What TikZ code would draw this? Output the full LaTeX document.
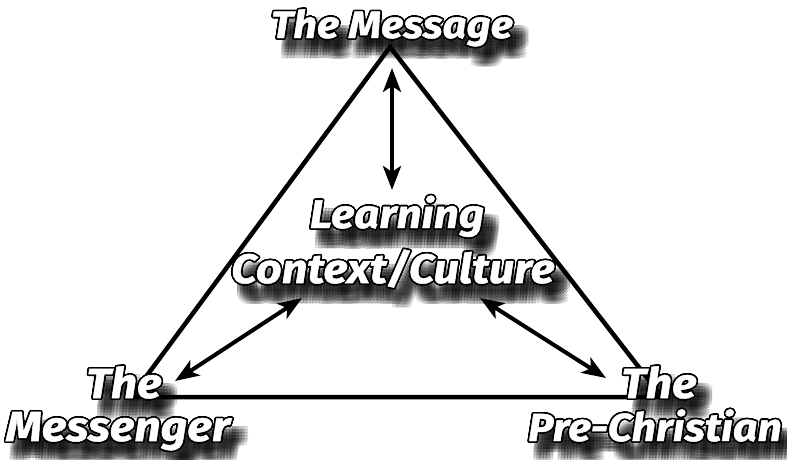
\documentclass[tikz,border=0pt]{standalone}
\usepackage{fontspec}
\setmainfont{Fira Sans}
\newfontfamily\wordfont{Fira Sans}[FakeStretch=1.1, FakeBold=1.2]
\usepackage{contour}
\contourlength{1.6pt}
\contournumber{24}
\usetikzlibrary{arrows.meta, calc}

\tikzset{
  edge/.style={line width=4.5pt},
  twoway/.style={line width=4pt,
    {Stealth[length=24pt,width=18pt,inset=6pt]}-{Stealth[length=24pt,width=18pt,inset=6pt]}},
  wordlbl/.style={anchor=base, inner sep=0pt, text=white,
    font=\wordfont\bfseries\itshape\fontsize{#1}{#1}\selectfont},
  wordshadow/.style={anchor=base, inner sep=0pt, text=black, text opacity=0.1,
    font=\wordfont\bfseries\itshape\fontsize{#1}{#1}\selectfont},
}

% name, position, size, text
\newcommand\shadowword[4]{%
  \foreach \dx in {-6,-3,...,6}
    \foreach \dy in {-6,-3,...,6}
      \node[wordshadow=#3] (#1-sh) at ($(#2)+(10+\dx,14+\dy)$) {#4};
  \node[wordlbl=#3] (#1) at (#2) {\contour{black}{#4}};
}

\begin{document}
\begin{tikzpicture}[x=1pt,y=-1pt]
\useasboundingbox (0,0) rectangle (787,459);

% corners of the triangle
\coordinate (top) at (390,47);
\coordinate (left) at (131,397);
\coordinate (right) at (662,397);
\draw[edge] (top) -- (left) -- (right) -- cycle;

% arrow ends
\coordinate (up-a) at (392,68);
\coordinate (up-b) at (392,190);
\coordinate (lt-a) at (175,381);
\coordinate (lt-b) at (302,298);
\coordinate (rt-a) at (480,298);
\coordinate (rt-b) at (606,378);
\draw[twoway] (up-a) -- (up-b);
\draw[twoway] (lt-a) -- (lt-b);
\draw[twoway] (rt-a) -- (rt-b);

% labels
\shadowword{msg}{392,38}{38}{The Message}
\shadowword{ctx1}{397,228}{40}{Learning}
\shadowword{ctx2}{393,283}{41}{Context/Culture}
\shadowword{msgr1}{124,398}{42}{The}
\shadowword{msgr2}{118,441}{42}{Messenger}
\shadowword{pc1}{659,398}{42}{The}
\shadowword{pc2}{655,441}{39}{Pre-Christian}
\end{tikzpicture}
\end{document}
